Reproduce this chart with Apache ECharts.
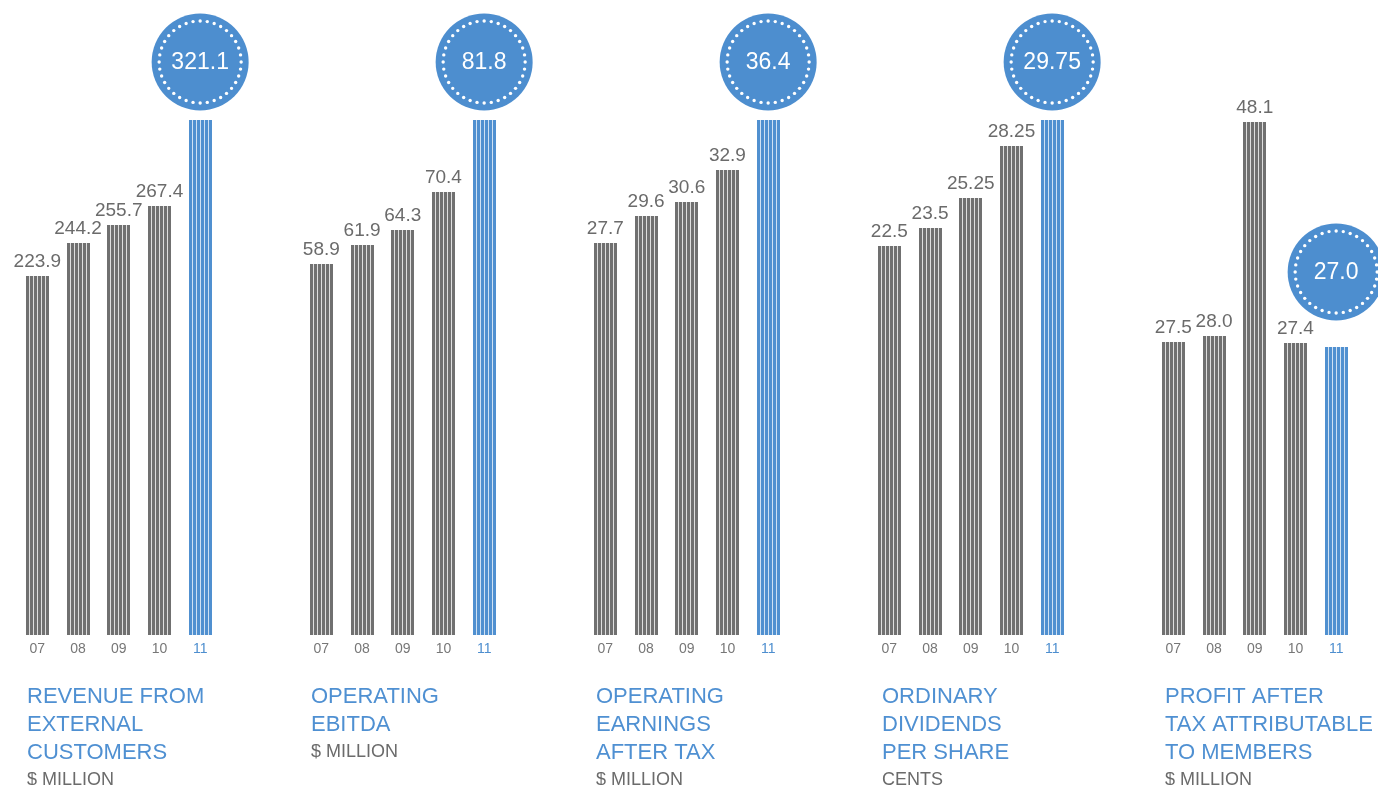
<!DOCTYPE html>
<html>
<head>
<meta charset="utf-8">
<script src="https://cdn.jsdelivr.net/npm/echarts@6/dist/echarts.min.js"></script>
<style>
html,body{margin:0;padding:0;background:#fff;}
#c{width:1378px;height:785px;}
</style>
</head>
<body>
<div id="c"></div>
<script>
const years = ['07', '08', '09', '10', '11'];
const revenue = [223.9, 244.2, 255.7, 267.4, 321.1];
const ebitda = [58.9, 61.9, 64.3, 70.4, 81.8];
const earnings = [27.7, 29.6, 30.6, 32.9, 36.4];
const dividends = [22.5, 23.5, 25.25, 28.25, 29.75];
const profit = [27.5, 28.0, 48.1, 27.4, 27.0];
const titles = [
  ['REVENUE FROM', 'EXTERNAL', 'CUSTOMERS'],
  ['OPERATING', 'EBITDA'],
  ['OPERATING', 'EARNINGS', 'AFTER TAX'],
  ['ORDINARY', 'DIVIDENDS', 'PER SHARE'],
  ['PROFIT AFTER', 'TAX ATTRIBUTABLE', 'TO MEMBERS']
];
const units = ['$ MILLION', '$ MILLION', '$ MILLION', 'CENTS', '$ MILLION'];
const panelsData = [revenue, ebitda, earnings, dividends, profit];

const FONT = "'Liberation Sans', Arial, Helvetica, sans-serif";
const BLUE = '#4d8ecf';
const TITLE_BLUE = '#4f90d2';
const panelLeft = [17, 301, 585, 869, 1153];
const titleLeft = [27, 311, 596, 882, 1165];
const panelTop = [120, 120, 120, 120, 122];
const badgeOffset = [58, 58, 58, 58, 75];

function fmt(v) {
  return Number.isInteger(Math.round(v * 100) / 10) ? v.toFixed(1) : String(v);
}

const grid = [], xAxis = [], yAxis = [], series = [], title = [];
panelsData.forEach((vals, p) => {
  grid.push({left: panelLeft[p], top: panelTop[p], width: 203.5, bottom: 150});
  xAxis.push({
    type: 'category', gridIndex: p, data: years, boundaryGap: true,
    axisLine: {show: false}, axisTick: {show: false}, splitLine: {show: false},
    axisLabel: {
      margin: 7, fontSize: 14, fontFamily: FONT,
      color: (val, i) => (i === years.length - 1 ? BLUE : '#777777')
    }
  });
  yAxis.push({
    type: 'value', gridIndex: p, min: 0, max: Math.max(...vals), show: false,
    splitLine: {show: false}
  });
  series.push({
    type: 'custom', xAxisIndex: p, yAxisIndex: p,
    data: vals.map((v, i) => [i, v]),
    renderItem: function (params, api) {
      const idx = api.value(0);
      const v = api.value(1);
      const top = api.coord([idx, v]);
      const base = api.coord([idx, 0]);
      const hl = idx === years.length - 1;
      const bw = 23, sw = 3, step = 4;
      const x0 = Math.round(top[0] - bw / 2);
      const yTop = Math.round(top[1]);
      const h = base[1] - yTop;
      const children = [];
      children.push({type: 'rect', shape: {x: x0, y: yTop, width: bw, height: h},
        style: {fill: hl ? '#cfe1f3' : '#dedede'}});
      for (let k = 0; k < 6; k++) {
        children.push({type: 'rect', shape: {x: x0 + k * step, y: yTop, width: sw, height: h},
          style: {fill: hl ? '#5090d0' : '#707070'}});
      }
      if (!hl) {
        children.push({type: 'text', style: {
          text: fmt(v), x: top[0], y: yTop - 5, align: 'center', verticalAlign: 'bottom',
          font: '19px ' + FONT, fill: '#6b6b6b'}});
      } else {
        const cx = top[0], cy = yTop - badgeOffset[p];
        children.push({type: 'circle', shape: {cx: cx, cy: cy, r: 48.5}, style: {fill: BLUE}});
        const nd = 36;
        for (let d = 0; d < nd; d++) {
          const a = -Math.PI / 2 + d * 2 * Math.PI / nd;
          children.push({type: 'circle', shape: {cx: cx + 41 * Math.cos(a), cy: cy + 41 * Math.sin(a), r: 1.7},
            style: {fill: '#ffffff'}});
        }
        children.push({type: 'text', style: {
          text: fmt(v), x: cx, y: cy + 1, align: 'center', verticalAlign: 'middle',
          font: '23px ' + FONT, fill: '#ffffff'}});
      }
      return {type: 'group', children: children};
    }
  });
  title.push({
    text: titles[p].join('\n'), left: titleLeft[p], top: 683, padding: 0,
    textStyle: {fontSize: 22, lineHeight: 28, color: TITLE_BLUE, fontWeight: 'normal', fontFamily: FONT}
  });
  title.push({
    text: units[p], left: titleLeft[p], top: 682 + 28 * titles[p].length, padding: 0,
    textStyle: {fontSize: 18, lineHeight: 28, color: '#6b6b6b', fontWeight: 'normal', fontFamily: FONT}
  });
});

const chart = echarts.init(document.getElementById('c'), null, {renderer: 'canvas'});
chart.setOption({
  animation: false,
  backgroundColor: '#ffffff',
  title: title, grid: grid, xAxis: xAxis, yAxis: yAxis, series: series
});
</script>
</body>
</html>
